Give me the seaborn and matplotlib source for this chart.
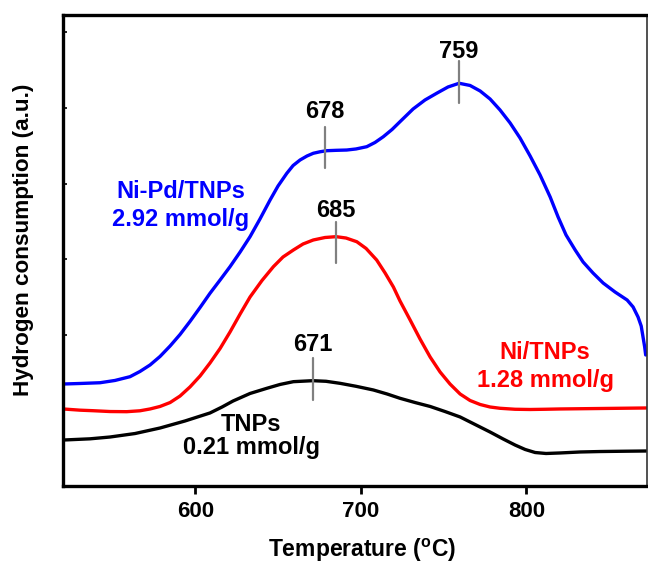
import matplotlib
matplotlib.use("Agg")
import matplotlib.pyplot as plt
import seaborn as sns
import pandas as pd

# Temperature-programmed reduction profiles (temperature in °C, signal in a.u.)
tnps_temp = [520.0, 536.3, 548.4, 563.5, 578.6, 593.7, 608.8, 616.1, 622.7, 633.0,
             643.1, 651.1, 659.2, 670.9, 678.9, 687.4, 697.0, 707.5, 715.8, 723.6,
             732.7, 741.8, 750.8, 759.9, 769.0, 778.0, 785.9, 793.1, 799.2, 805.2,
             811.8, 820.3, 832.4, 844.5, 859.6, 872.3]
tnps_val = [0.608, 0.624, 0.648, 0.694, 0.767, 0.860, 0.966, 1.045, 1.124, 1.224,
            1.292, 1.343, 1.380, 1.393, 1.385, 1.358, 1.319, 1.270, 1.217, 1.160,
            1.104, 1.052, 0.985, 0.913, 0.813, 0.714, 0.622, 0.542, 0.483, 0.443,
            0.430, 0.437, 0.450, 0.456, 0.460, 0.463]

ni_temp = [520.0, 530.3, 538.1, 548.4, 558.5, 566.5, 572.6, 578.6, 584.7, 590.7,
           596.7, 602.8, 608.8, 614.9, 620.9, 627.0, 633.0, 640.2, 647.1,
           652.9, 659.2, 665.0, 671.2, 678.3, 685.0, 691.0, 697.5, 703.1, 709.5,
           714.6, 719.6, 723.6, 729.7, 735.7, 741.8, 747.8, 753.8, 759.9, 765.9,
           772.0, 778.0, 784.0, 793.1, 802.2, 811.2, 820.3, 844.5, 872.3]
ni_val = [1.019, 1.003, 0.996, 0.985, 0.983, 0.995, 1.019, 1.052, 1.104, 1.190,
          1.310, 1.455, 1.627, 1.819, 2.037, 2.275, 2.500, 2.718, 2.901,
          3.029, 3.122, 3.201, 3.254, 3.287, 3.298, 3.280, 3.231, 3.142, 2.989,
          2.817, 2.632, 2.447, 2.196, 1.944, 1.706, 1.508, 1.349, 1.217, 1.131,
          1.078, 1.045, 1.028, 1.015, 1.012, 1.015, 1.019, 1.025, 1.032]

nipd_temp = [520.0, 530.3, 542.4, 551.4, 560.5, 566.5, 572.6, 578.6, 584.7, 590.7,
             596.7, 602.8, 608.8, 614.9, 620.9, 627.0, 633.0, 639.0, 645.1, 649.9,
             655.2, 659.0, 663.2, 667.4, 671.2, 675.3, 679.3, 685.0, 691.4, 697.0,
             703.5, 708.5, 713.5, 718.8, 723.6, 731.5, 738.7, 746.0, 752.6, 759.3,
             765.9, 772.0, 778.0, 784.0, 790.1, 796.1, 802.2, 808.2, 814.3, 819.1,
             823.9, 829.4, 834.2, 840.2, 846.3, 853.5, 860.8, 864.4, 867.4, 869.3,
             870.4, 871.4, 872.0]
nipd_val = [1.349, 1.356, 1.366, 1.396, 1.446, 1.515, 1.601, 1.713, 1.852, 2.004,
            2.176, 2.361, 2.549, 2.725, 2.901, 3.095, 3.298, 3.532, 3.783, 3.968,
            4.136, 4.239, 4.312, 4.365, 4.401, 4.421, 4.435, 4.440, 4.444, 4.458,
            4.488, 4.544, 4.620, 4.716, 4.819, 4.987, 5.106, 5.198, 5.278, 5.327,
            5.298, 5.225, 5.119, 4.974, 4.802, 4.603, 4.365, 4.114, 3.823, 3.558,
            3.320, 3.122, 2.963, 2.817, 2.685, 2.566, 2.460, 2.368, 2.235, 2.116,
            1.971, 1.839, 1.733]

# Peak temperatures and the signal span of each marker
peak_temp = [678, 759, 685, 671]
peak_lo = [4.21, 5.07, 2.95, 1.14]
peak_hi = [4.75, 5.62, 3.49, 1.69]
peak_text_y = [4.95, 5.745, 3.65, 1.87]

sns.set_style("ticks")
plt.rcParams["font.family"] = ["Liberation Sans", "DejaVu Sans"]
plt.rcParams["font.weight"] = "bold"
plt.rcParams["axes.labelweight"] = "bold"
plt.rcParams["text.color"] = "black"
plt.rcParams["axes.labelcolor"] = "black"
plt.rcParams["xtick.color"] = "black"
plt.rcParams["ytick.color"] = "black"
plt.rcParams["mathtext.fontset"] = "custom"
plt.rcParams["mathtext.rm"] = "Liberation Sans:bold"

frames = []
for name, t, v in [("TNPs", tnps_temp, tnps_val),
                   ("Ni/TNPs", ni_temp, ni_val),
                   ("Ni-Pd/TNPs", nipd_temp, nipd_val)]:
    frames.append(pd.DataFrame({"Temperature": t, "Signal": v, "Sample": name}))
df = pd.concat(frames, ignore_index=True)

fig = plt.figure(figsize=(6.48, 5.67), dpi=100)
ax = fig.add_axes([63 / 648, 1 - 486 / 567, (646.5 - 63) / 648, (486 - 15) / 567])

palette = {"TNPs": "#000000", "Ni/TNPs": "#ff0000", "Ni-Pd/TNPs": "#0000ff"}
sns.lineplot(data=df, x="Temperature", y="Signal", hue="Sample", palette=palette,
             linewidth=2.4, sort=False, estimator=None, legend=False, ax=ax,
             solid_joinstyle="round", solid_capstyle="round")

for t, lo, hi, ty in zip(peak_temp, peak_lo, peak_hi, peak_text_y):
    ax.plot([t, t], [lo, hi], color="#808080", lw=1.6, zorder=3)
    ax.text(t, ty, str(t), ha="center", va="center", fontsize=17, fontweight="bold")

ann = dict(ha="center", va="center", fontsize=17, fontweight="bold")
ax.text(591.0, 3.896, "Ni-Pd/TNPs", color="#0000ff", **ann)
ax.text(591.0, 3.519, "2.92 mmol/g", color="#0000ff", **ann)
ax.text(811.2, 1.772, "Ni/TNPs", color="#ff0000", **ann)
ax.text(811.2, 1.402, "1.28 mmol/g", color="#ff0000", **ann)
ax.text(633.6, 0.807, "TNPs", color="black", **ann)
ax.text(633.6, 0.503, "0.21 mmol/g", color="black", **ann)

ax.set_xlim(520, 872.5)
ax.set_ylim(0, 6.23)
ax.set_xticks([600, 700, 800])
ax.set_yticks([2, 3, 4, 5, 6])
ax.set_yticklabels([])
ax.tick_params(axis="x", direction="out", length=6, width=2, labelsize=16, pad=5)
ax.tick_params(axis="y", direction="in", length=3, width=1.2)

for side in ["left", "top", "bottom"]:
    ax.spines[side].set_linewidth(2.4)
    ax.spines[side].set_color("black")
ax.spines["right"].set_linewidth(1.2)
ax.spines["right"].set_color("#333333")

ax.set_xlabel(r"Temperature ($\mathrm{^o}$C)", fontsize=16.5)
ax.set_ylabel("Hydrogen consumption (a.u.)", fontsize=16.2)
ax.xaxis.set_label_coords(0.512, -0.136)
ax.xaxis.label.set_va("center")
ax.yaxis.set_label_coords(-0.067, 0.522)
ax.yaxis.label.set_va("center")

fig.savefig("out.png", dpi=100)
